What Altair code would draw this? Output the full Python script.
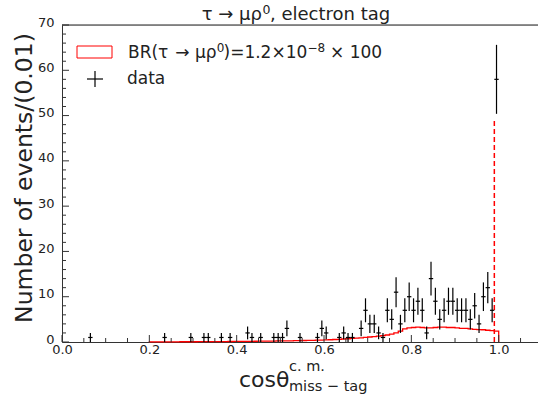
import altair as alt
import pandas as pd
import numpy as np

# ---------------- data ----------------
bin_centers = [0.065, 0.235, 0.295, 0.325, 0.335, 0.365, 0.385, 0.425, 0.435, 0.455,
               0.485, 0.495, 0.505, 0.515, 0.545, 0.585, 0.595, 0.605, 0.635, 0.645,
               0.655, 0.665, 0.685, 0.695, 0.705, 0.715, 0.725, 0.735, 0.745, 0.755,
               0.765, 0.775, 0.785, 0.795, 0.805, 0.815, 0.825, 0.835, 0.845, 0.855,
               0.865, 0.875, 0.885, 0.895, 0.905, 0.915, 0.925, 0.935, 0.945, 0.955,
               0.965, 0.975, 0.985, 0.995]
bin_counts = [1, 1, 1, 1, 1, 1, 1, 2, 1, 1,
              1, 1, 1, 3, 1, 1, 3, 2, 1, 2,
              1, 1, 3, 7, 4, 4, 2, 1, 7, 5,
              11, 4, 7, 10, 7, 9, 7, 2, 14, 9,
              5, 7, 9, 9, 7, 7, 7, 5, 8, 4,
              10, 12, 7, 58]
half_bin = 0.005

# signal (BR x 100) histogram, bins of 0.01 starting at 0.20
sig_first_edge = 0.20
sig_values = [0.02, 0.02, 0.03, 0.03, 0.03, 0.04, 0.04, 0.05, 0.05, 0.06,
              0.06, 0.07, 0.07, 0.08, 0.08, 0.09, 0.10, 0.10, 0.11, 0.12,
              0.13, 0.14, 0.15, 0.16, 0.17, 0.18, 0.19, 0.20, 0.21, 0.23,
              0.24, 0.26, 0.27, 0.29, 0.31, 0.33, 0.35, 0.37, 0.40, 0.42,
              0.45, 0.50, 0.55, 0.60, 0.66, 0.72, 0.78, 0.85, 0.92, 1.00,
              1.10, 1.20, 1.30, 1.40, 1.55, 1.75, 2.00, 2.40, 2.90, 3.10,
              3.20, 3.30, 3.20, 3.10, 3.10, 3.20, 3.30, 3.30, 3.20, 3.20,
              3.10, 3.00, 3.00, 2.90, 2.80, 2.75, 2.70, 2.60, 2.50, 2.40]
sig_line_x = 0.99
sig_line_top = 49

x_major = [0.0, 0.2, 0.4, 0.6, 0.8, 1.0]
x_minor = [0.05, 0.1, 0.15, 0.25, 0.3, 0.35, 0.45, 0.5, 0.55, 0.65, 0.7, 0.75,
           0.85, 0.9, 0.95, 1.05]
y_major = [0, 10, 20, 30, 40, 50, 60, 70]
y_minor = [2, 4, 6, 8, 12, 14, 16, 18, 22, 24, 26, 28, 32, 34, 36, 38, 42, 44, 46, 48,
           52, 54, 56, 58, 62, 64, 66, 68]

ytitle = "Number of events/(0.01)"

# ---------------- layout ----------------
W, H = 476, 317
FONT = "DejaVu Sans"
TXT = "#222222"

xscale = alt.Scale(domain=[0, 1.09], nice=False, zero=False)
yscale = alt.Scale(domain=[0, 70], nice=False)
xaxis = alt.Axis(values=x_major, format=".1f", ticks=False, grid=False, title=None,
                 labelFontSize=13, labelColor=TXT, labelFont=FONT, labelPadding=1,
                 domainColor="#333333", labelOverlap=False, labelFlush=False)
yaxis = alt.Axis(values=y_major, ticks=False, grid=False, title=None,
                 labelFontSize=13, labelColor=TXT, labelFont=FONT, labelPadding=8,
                 labelOffset=-3,
                 domainColor="#333333", labelOverlap=False, labelFlush=False)

df = pd.DataFrame({"x": bin_centers, "n": bin_counts})
df["err"] = np.sqrt(df["n"])
df["lo"] = df["n"] - df["err"]
df["hi"] = df["n"] + df["err"]
df["xl"] = df["x"] - half_bin
df["xr"] = df["x"] + half_bin

sx, sy, order = [sig_first_edge], [0.0], [0]
for i, v in enumerate(sig_values):
    sx.append(round(sig_first_edge + 0.01 * i, 2))
    sy.append(v)
    order.append(i + 1)
sx.append(1.0)
sy.append(0.0)
order.append(len(order))
sig = pd.DataFrame({"x": sx, "y": sy, "o": order})

sig_layer = alt.Chart(sig).mark_line(interpolate="step-after", color="#ff0000",
                                     strokeWidth=1.3).encode(
    x=alt.X("x:Q", scale=xscale, axis=xaxis),
    y=alt.Y("y:Q", scale=yscale, axis=yaxis),
    order="o:Q")

dash_layer = alt.Chart(pd.DataFrame({"x": [sig_line_x], "y0": [0], "y1": [sig_line_top]})).mark_rule(
    color="#ff0000", strokeDash=[5, 3], strokeWidth=1.5).encode(
    x=alt.X("x:Q", scale=xscale, axis=xaxis),
    y=alt.Y("y0:Q", scale=yscale, axis=yaxis), y2="y1:Q")

verr = alt.Chart(df).mark_rule(color="#000000", strokeWidth=1.2).encode(
    x=alt.X("x:Q", scale=xscale, axis=xaxis),
    y=alt.Y("lo:Q", scale=yscale, axis=yaxis), y2="hi:Q")
herr = alt.Chart(df).mark_rule(color="#000000", strokeWidth=1.2).encode(
    x=alt.X("xl:Q", scale=xscale, axis=xaxis), x2="xr:Q",
    y=alt.Y("n:Q", scale=yscale, axis=yaxis))

TICKC = "#333333"
xmaj = alt.Chart(pd.DataFrame({"t": x_major})).mark_rule(color=TICKC, strokeWidth=1).encode(
    x=alt.X("t:Q", scale=xscale, axis=xaxis), y=alt.value(H), y2=alt.value(H - 7))
xmin = alt.Chart(pd.DataFrame({"t": x_minor})).mark_rule(color=TICKC, strokeWidth=1).encode(
    x=alt.X("t:Q", scale=xscale, axis=xaxis), y=alt.value(H), y2=alt.value(H - 4))
ymaj = alt.Chart(pd.DataFrame({"t": y_major})).mark_rule(color=TICKC, strokeWidth=1).encode(
    y=alt.Y("t:Q", scale=yscale, axis=yaxis), x=alt.value(0), x2=alt.value(7))
ymin = alt.Chart(pd.DataFrame({"t": y_minor})).mark_rule(color=TICKC, strokeWidth=1).encode(
    y=alt.Y("t:Q", scale=yscale, axis=yaxis), x=alt.value(0), x2=alt.value(4))

one = pd.DataFrame({"a": [0]})
top_border = alt.Chart(one).mark_rule(color="#222222", strokeWidth=1.2).encode(
    x=alt.value(0), x2=alt.value(W), y=alt.value(0))

def label(txt, x, y, size, align="left", angle=0):
    return alt.Chart(pd.DataFrame({"t": [txt]})).mark_text(
        font=FONT, fontSize=size, color=TXT, align=align, baseline="alphabetic",
        angle=angle).encode(text="t:N", x=alt.value(x), y=alt.value(y))

# title: τ → μρ⁰, electron tag
t1 = label("τ → μρ", 200, -5, 18, align="right")
t2 = label("0", 200.5, -11.5, 12.5)
t3 = label(", electron tag", 208, -5, 18)

ylab = label(ytitle, -30, 153, 23.5, align="center", angle=270)
xt1 = label("cosθ", 177, 361.5, 22)
xt2 = label("c. m.", 227, 346, 14.5)
xt3 = label("miss − tag", 227, 365.5, 14.5)

leg_rect = alt.Chart(one).mark_rect(fill=None, stroke="#ff0000", strokeWidth=1).encode(
    x=alt.value(15), x2=alt.value(50), y=alt.value(21), y2=alt.value(33))
leg_h = alt.Chart(one).mark_rule(color="#000000", strokeWidth=1.2).encode(
    x=alt.value(25), x2=alt.value(41), y=alt.value(54))
leg_v = alt.Chart(one).mark_rule(color="#000000", strokeWidth=1.2).encode(
    x=alt.value(33), y=alt.value(46), y2=alt.value(62))

# legend: BR(τ → μρ⁰)=1.2×10⁻⁸ × 100
l1 = label("BR(τ", 66, 33, 17)
l2 = label("→ μρ", 154.5, 33, 17, align="right")
l3 = label("0", 154.8, 26.5, 12)
l4 = label(")=1.2×10", 161.5, 33, 17)
l5 = label("−8", 245.5, 26.5, 12)
l6 = label("× 100", 268, 33, 17)
leg_t2 = label("data", 65, 59, 17)

chart = alt.layer(
    sig_layer, dash_layer, verr, herr, xmaj, xmin, ymaj, ymin, top_border,
    t1, t2, t3, ylab, xt1, xt2, xt3, leg_rect, leg_h, leg_v,
    l1, l2, l3, l4, l5, l6, leg_t2
).properties(
    width=W, height=H,
    autosize=alt.AutoSizeParams(type="none"),
    padding={"left": 62, "top": 25, "right": 0, "bottom": 52},
).configure_view(strokeWidth=0).configure(background="white")

chart.save("out.html", embed_options={"renderer": "svg", "actions": False})
